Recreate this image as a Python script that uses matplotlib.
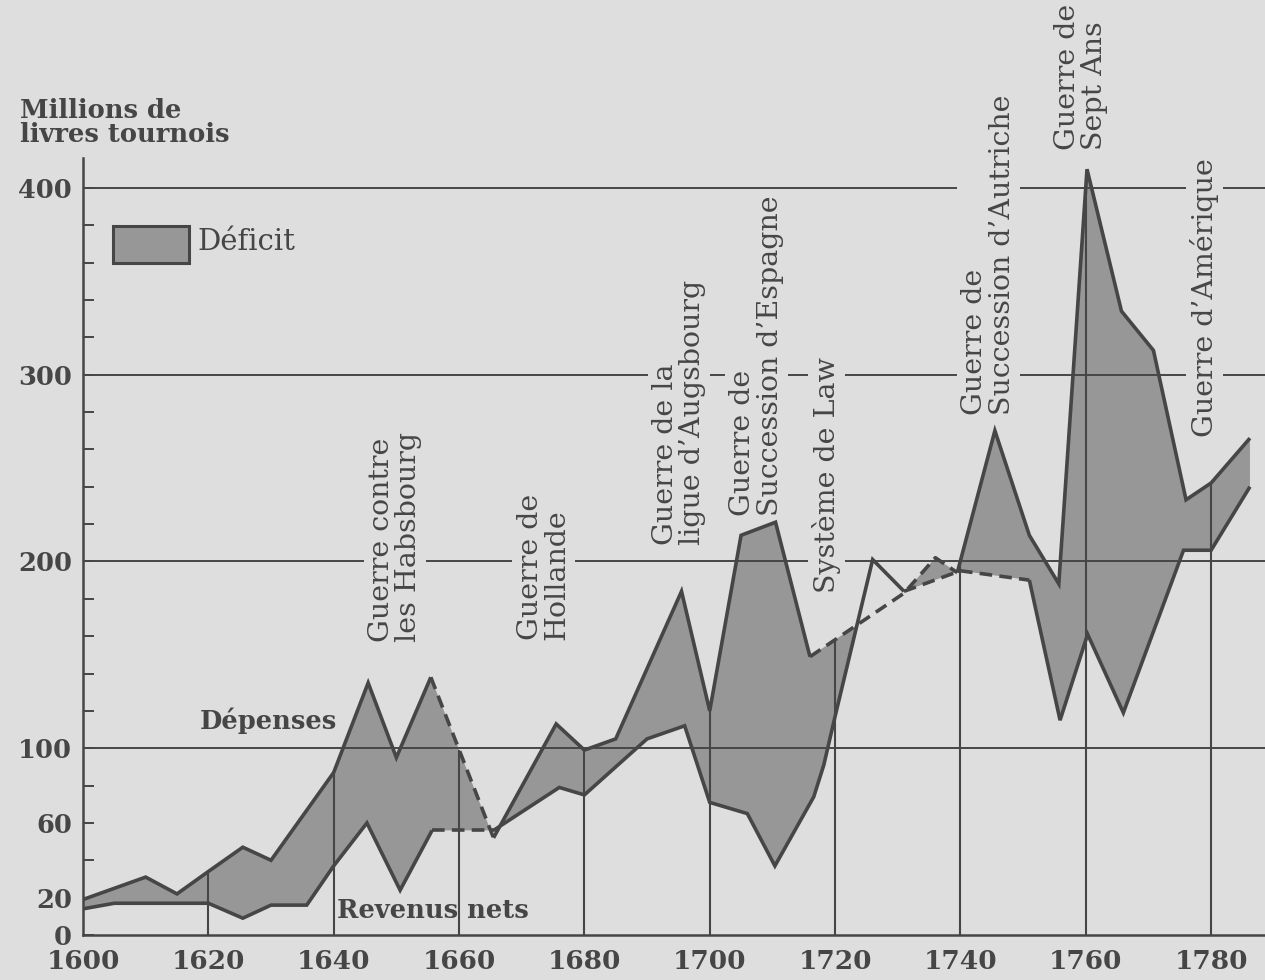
import numpy as np
import matplotlib
matplotlib.use("Agg")
import matplotlib.pyplot as plt
from matplotlib.patches import Rectangle

# ---------------- data ----------------
dep_years = [1600, 1610, 1615, 1620, 1625.5, 1630, 1640, 1645.5, 1650, 1655.5,
             1665.5, 1675.5, 1680, 1685, 1695.5, 1700, 1705, 1710.5, 1716,
             1731, 1736, 1739.5, 1745.5, 1751, 1755.7, 1760.2, 1765.7, 1770.8,
             1776, 1780, 1786.2]
dep_vals = [19, 31, 22, 34, 47, 40, 87, 135, 95, 138,
            52, 113, 99, 105, 184, 120, 214, 221, 149,
            183, 202, 194, 270, 214, 188, 410, 334, 313,
            233, 242, 266]
dep_dashed = [(1655.5, 1665.5), (1716, 1739.5)]

rev_years = [1600, 1605, 1620, 1625.5, 1630, 1635.7, 1640, 1645.3, 1650.6,
             1655.7, 1665.5, 1676, 1680, 1690, 1696, 1700, 1706, 1710.4,
             1716.6, 1718.2, 1720, 1726, 1731, 1740, 1751, 1755.9, 1760.3,
             1766, 1775.6, 1780, 1786.2]
rev_vals = [14, 17, 17, 9, 16, 16, 37, 60, 24,
            56, 56, 79, 75, 105, 112, 71, 65, 37,
            74, 91, 117, 201, 184, 195, 190, 115, 161,
            119, 206, 206, 240]
rev_dashed = [(1655.7, 1665.5), (1731, 1751)]

x_ticks = [1600, 1620, 1640, 1660, 1680, 1700, 1720, 1740, 1760, 1780]
y_ticks = [0, 20, 60, 100, 200, 300, 400]
grid_levels = [100, 200, 300, 400]

wars = [
    ("Guerre contre\nles Habsbourg", 395, 642),
    ("Guerre de\nHollande", 543.5, 640),
    ("Guerre de la\nligue d\u2019Augsbourg", 679, 545),
    ("Guerre de\nSuccession d\u2019Espagne", 756.5, 516),
    ("Syst\u00e8me de Law", 826.5, 593),
    ("Guerre de\nSuccession d\u2019Autriche", 988.5, 415),
    ("Guerre de\nSept Ans", 1081, 150),
    ("Guerre d\u2019Am\u00e9rique", 1204.5, 437),
]

# ---------------- style ----------------
W, H = 1265, 980
BG = '#dedede'
INK = '#464646'
FILL = '#979797'
SERIF = ['DejaVu Serif']


def fx(x):
    return x / W


def fy(y):
    return 1 - y / H


fig = plt.figure(figsize=(W / 100, H / 100), dpi=100)
fig.patch.set_facecolor(BG)
ax = fig.add_axes([fx(83), fy(935), 1 - fx(83), (935 - 158) / H])
ax.set_facecolor(BG)
ax.set_xlim(1600, 1788.6)
ax.set_ylim(0, 416)

for s in ['top', 'right']:
    ax.spines[s].set_visible(False)
for s in ['left', 'bottom']:
    ax.spines[s].set_color(INK)
    ax.spines[s].set_linewidth(1.8)

# deficit fill
xs = np.union1d(dep_years, rev_years)
d = np.interp(xs, dep_years, dep_vals)
r = np.interp(xs, rev_years, rev_vals)
ax.fill_between(xs, r, d, where=d >= r, interpolate=True,
                facecolor=FILL, edgecolor='none', zorder=2)

# horizontal grid lines
for g in grid_levels:
    ax.axhline(g, color=INK, lw=1.4, zorder=3)

# vertical lines from 0 up to the expenditure curve
vx = np.array(x_ticks[1:], dtype=float)
ax.vlines(vx, 0, np.interp(vx, dep_years, dep_vals), color=INK, lw=1.5, zorder=3)


def draw_series(years, vals, dashed):
    years = list(years)
    vals = list(vals)
    styles = []
    for i in range(len(years) - 1):
        is_d = any(a <= years[i] and years[i + 1] <= b for a, b in dashed)
        styles.append(is_d)
    start = 0
    for i in range(1, len(styles) + 1):
        if i == len(styles) or styles[i] != styles[start]:
            seg_x = years[start:i + 1]
            seg_y = vals[start:i + 1]
            if styles[start]:
                ax.plot(seg_x, seg_y, color=INK, lw=2.6, dashes=(3.5, 2.0),
                        dash_capstyle='butt', zorder=5)
            else:
                ax.plot(seg_x, seg_y, color=INK, lw=2.6,
                        solid_joinstyle='miter', solid_capstyle='butt', zorder=5)
            start = i


draw_series(dep_years, dep_vals, dep_dashed)
draw_series(rev_years, rev_vals, rev_dashed)

# ticks
ax.set_xticks(x_ticks)
ax.set_xticklabels([str(v) for v in x_ticks], fontsize=19, fontweight='bold',
                   family=SERIF, color=INK)
ax.tick_params(axis='x', length=0, pad=10)
ax.set_yticks(y_ticks)
ax.set_yticklabels([str(v) for v in y_ticks], fontsize=18.5, fontweight='bold',
                   family=SERIF, color=INK)
ax.set_yticks(np.arange(0, 401, 20), minor=True)
ax.tick_params(axis='y', which='both', direction='in', length=8, width=1.4,
               color=INK, pad=8)

# titles / annotations
ax.text(fx(20), fy(98), "Millions de\nlivres tournois", transform=fig.transFigure,
        ha='left', va='top', fontsize=18.5, fontweight='bold', family=SERIF,
        color=INK, linespacing=0.95)

leg = Rectangle((fx(113), fy(263)), 76 / W, 37 / H, transform=fig.transFigure,
                facecolor=FILL, edgecolor=INK, lw=2.2, zorder=6)
fig.add_artist(leg)
ax.text(fx(197), fy(242), "D\u00e9ficit", transform=fig.transFigure,
        ha='left', va='center', fontsize=21, family=SERIF, color=INK)

ax.text(fx(200), fy(721), "D\u00e9penses", transform=fig.transFigure,
        ha='left', va='center', fontsize=18.5, fontweight='bold', family=SERIF,
        color=INK, zorder=6)
ax.text(fx(337), fy(910), "Revenus nets", transform=fig.transFigure,
        ha='left', va='center', fontsize=18.5, fontweight='bold', family=SERIF,
        color=INK, zorder=6)

for label, x, yb in wars:
    ax.text(fx(x), fy(yb), label, transform=fig.transFigure, rotation=90,
            ha='center', va='bottom', multialignment='left', fontsize=20.5,
            family=SERIF, color=INK, linespacing=1.0, zorder=4,
            bbox=dict(boxstyle='square,pad=0.15', facecolor=BG, edgecolor='none'))

fig.savefig('out.png', dpi=100, facecolor=BG)
